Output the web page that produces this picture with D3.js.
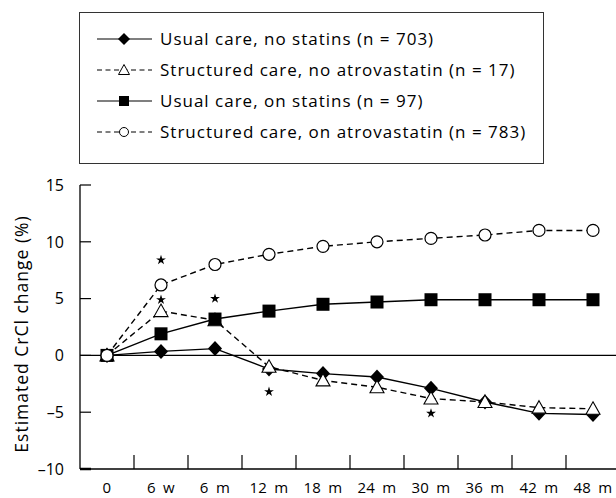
<!DOCTYPE html>
<html>
<head>
<meta charset="utf-8">
<script src="https://cdn.jsdelivr.net/npm/d3@7/dist/d3.min.js"></script>
<style>
  body { margin: 0; background: #fff; }
  svg { display: block; font-family: "Open Sans", "Liberation Sans", Arial, sans-serif; }
</style>
</head>
<body>
<svg id="chart" width="616" height="498"></svg>
<script>
(function () {
  'use strict';

  var categories = ['0', '6 w', '6 m', '12 m', '18 m', '24 m', '30 m', '36 m', '42 m', '48 m'];
  var yTicks = [-10, -5, 0, 5, 10, 15];

  var usualNoStatins = [0, 0.35, 0.6, -1.2, -1.6, -1.9, -2.9, -4.1, -5.1, -5.2];
  var structuredNoAtorva = [0, 3.9, 3.1, -1.0, -2.2, -2.8, -3.8, -4.1, -4.6, -4.7];
  var usualOnStatins = [0, 1.9, 3.2, 3.9, 4.5, 4.7, 4.9, 4.9, 4.9, 4.9];
  var structuredOnAtorva = [0, 6.2, 8.0, 8.9, 9.6, 10.0, 10.3, 10.6, 11.0, 11.0];

  // significance stars: category, value
  var starCats = ['6 w', '6 w', '6 m', '12 m', '30 m'];
  var starVals = [8.4, 4.9, 5.0, -3.2, -5.1];

  var seriesNames = [
    'Usual care, no statins (n = 703)',
    'Structured care, no atrovastatin (n = 17)',
    'Usual care, on statins (n = 97)',
    'Structured care, on atrovastatin (n = 783)'
  ];

  var series = [
    { name: seriesNames[0], values: usualNoStatins, dash: null, marker: 'diamond' },
    { name: seriesNames[1], values: structuredNoAtorva, dash: '6,4', marker: 'triangle' },
    { name: seriesNames[2], values: usualOnStatins, dash: null, marker: 'square' },
    { name: seriesNames[3], values: structuredOnAtorva, dash: '6,4', marker: 'circle' }
  ];

  var svg = d3.select('#chart'),
      left = 80, right = 620, top = 185, bottom = 469;

  var x = d3.scaleBand().domain(categories).range([left, right]).padding(0);
  var y = d3.scaleLinear().domain([-10, 15]).range([bottom, top]);

  var xc = function (c) { return x(c) + x.bandwidth() / 2; };

  function marker(sel, type) {
    if (type === 'circle') {
      sel.append('circle').attr('r', 6).attr('fill', '#fff').attr('stroke', '#000').attr('stroke-width', 1.2);
    } else if (type === 'square') {
      sel.append('rect').attr('x', -6.5).attr('y', -6.5).attr('width', 13).attr('height', 13).attr('fill', '#000');
    } else if (type === 'diamond') {
      sel.append('path').attr('d', 'M0,-7.5L7,0L0,7.5L-7,0Z').attr('fill', '#000');
    } else {
      sel.append('path').attr('d', 'M0,-7L7,5.5L-7,5.5Z').attr('fill', '#fff').attr('stroke', '#000').attr('stroke-width', 1.1);
    }
  }

  function legendMarker(sel, type) {
    if (type === 'circle') {
      sel.append('circle').attr('r', 4.5).attr('fill', '#fff').attr('stroke', '#000').attr('stroke-width', 1);
    } else if (type === 'square') {
      sel.append('rect').attr('x', -5).attr('y', -5).attr('width', 10).attr('height', 10).attr('fill', '#000');
    } else if (type === 'diamond') {
      sel.append('path').attr('d', 'M0,-6L6,0L0,6L-6,0Z').attr('fill', '#000');
    } else {
      sel.append('path').attr('d', 'M0,-5.5L5.5,4.5L-5.5,4.5Z').attr('fill', '#fff').attr('stroke', '#000').attr('stroke-width', 1);
    }
  }

  // legend
  var legend = svg.append('g');
  legend.append('rect')
    .attr('x', 79.5).attr('y', 12.5).attr('width', 464).attr('height', 151)
    .attr('fill', 'none').attr('stroke', '#333').attr('stroke-width', 1);

  var rows = legend.selectAll('g.row')
    .data(series)
    .enter()
    .append('g')
      .attr('class', 'row')
      .attr('transform', function (d, i) { return 'translate(0,' + (39 + i * 31) + ')'; });

  rows.append('line')
    .attr('x1', 97).attr('x2', 152).attr('y1', 0).attr('y2', 0)
    .attr('stroke', '#000').attr('stroke-width', 1.2)
    .attr('stroke-dasharray', function (d) { return d.dash ? '5,3.5' : null; });

  rows.append('g')
    .attr('transform', 'translate(124,0)')
    .each(function (d) { legendMarker(d3.select(this), d.marker); });

  rows.append('text')
    .attr('x', 160).attr('y', 0).attr('dy', '0.35em')
    .attr('font-size', 17)
    .attr('letter-spacing', 1)
    .text(function (d) { return d.name; });

  // axes
  var yAxis = svg.append('g');
  yAxis.append('line')
    .attr('x1', left).attr('x2', left).attr('y1', top).attr('y2', bottom)
    .attr('stroke', '#000').attr('stroke-width', 1.3);
  yAxis.selectAll('line.tick')
    .data(yTicks)
    .enter()
    .append('line')
      .attr('class', 'tick')
      .attr('x1', left).attr('x2', left + 11)
      .attr('y1', function (d) { return y(d); })
      .attr('y2', function (d) { return y(d); })
      .attr('stroke', '#000')
      .attr('stroke-width', function (d) { return d === -10 ? 2.5 : 1.2; });
  yAxis.selectAll('text')
    .data(yTicks)
    .enter()
    .append('text')
      .attr('x', 64)
      .attr('y', function (d) { return y(d); })
      .attr('dy', '0.36em')
      .attr('text-anchor', 'end')
      .attr('font-size', 16)
      .text(function (d) { return d < 0 ? '\u2013' + Math.abs(d) : d; });

  svg.append('text')
    .attr('transform', 'translate(28,' + 334 + ') rotate(-90)')
    .attr('text-anchor', 'middle')
    .attr('font-size', 17.5)
    .attr('letter-spacing', 1)
    .text('Estimated CrCl change (%)');

  var xAxis = svg.append('g');
  xAxis.append('line')
    .attr('x1', left).attr('x2', 616).attr('y1', bottom).attr('y2', bottom)
    .attr('stroke', '#000').attr('stroke-width', 1.3);
  xAxis.selectAll('line.tick')
    .data(categories.slice(1))
    .enter()
    .append('line')
      .attr('class', 'tick')
      .attr('x1', function (d) { return x(d); })
      .attr('x2', function (d) { return x(d); })
      .attr('y1', bottom).attr('y2', bottom - 14)
      .attr('stroke', '#000').attr('stroke-width', 1.2);
  xAxis.selectAll('text')
    .data(categories)
    .enter()
    .append('text')
      .attr('x', xc)
      .attr('y', 493)
      .attr('font-size', 15)
      .attr('letter-spacing', 0.3)
      .attr('word-spacing', 3)
      .attr('text-anchor', 'middle')
      .text(function (d) { return d; });

  // zero line
  svg.append('line')
    .attr('x1', left).attr('x2', 616).attr('y1', y(0)).attr('y2', y(0))
    .attr('stroke', '#000').attr('stroke-width', 1.1);

  var line = d3.line()
    .x(function (d, i) { return xc(categories[i]); })
    .y(function (d) { return y(d); });

  var groups = svg.selectAll('g.series')
    .data(series)
    .enter()
    .append('g')
      .attr('class', 'series');

  groups.append('path')
    .attr('d', function (d) { return line(d.values); })
    .attr('fill', 'none')
    .attr('stroke', '#000')
    .attr('stroke-width', 1.4)
    .attr('stroke-dasharray', function (d) { return d.dash; });

  groups.each(function (s) {
    d3.select(this).selectAll('g.pt')
      .data(s.values)
      .enter()
      .append('g')
        .attr('class', 'pt')
        .attr('transform', function (d, i) { return 'translate(' + xc(categories[i]) + ',' + y(d) + ')'; })
        .each(function () { marker(d3.select(this), s.marker); });
  });

  svg.selectAll('path.star')
    .data(starVals)
    .enter()
    .append('path')
      .attr('class', 'star')
      .attr('d', d3.symbol().type(d3.symbolStar).size(30))
      .attr('transform', function (d, i) { return 'translate(' + xc(starCats[i]) + ',' + y(d) + ')'; })
      .attr('fill', '#000');
})();
</script>
</body>
</html>
